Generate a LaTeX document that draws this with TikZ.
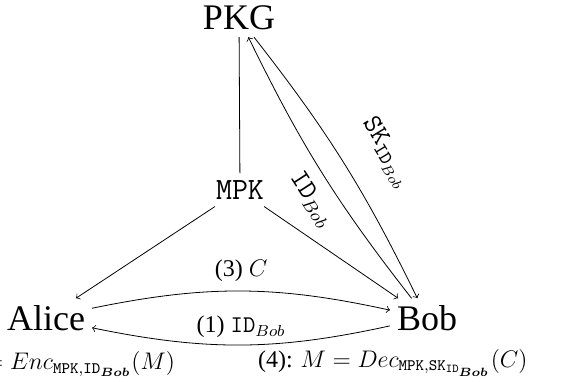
\documentclass[tikz,border=0pt]{standalone}
\usepackage{amsmath}
\usepackage{fontspec}
\setmainfont{Liberation Serif}

\begin{document}
\begin{tikzpicture}[x=0.5pt, y=-0.5pt,
		party/.style={font=\fontsize{18}{20}\selectfont},
		lbl/.style={font=\fontsize{12}{14}\selectfont},
		keylbl/.style={font=\fontsize{13.5}{15}\selectfont, sloped}]
		\useasboundingbox (0,0) rectangle (571,381);

		% the three parties and the public key
		\node [party] (pkg) at (239,18) {PKG};
		\node [font=\fontsize{15.5}{17}\selectfont] (mpk) at (240,190) {\texttt{MPK}};
		\node [party] (alice) at (46,318) {Alice};
		\node [party] (bob) at (427,318) {Bob};

		% MPK is published to both users
		\draw (pkg) -- (mpk);
		\draw [->] (mpk) -- (alice);
		\draw [->] (mpk) -- (bob);

		% key extraction between Bob and PKG
		\draw [->] (bob) to [bend left=6] node [keylbl, pos=0.44, below=3pt] {\texttt{ID}$_{Bob}$} (pkg);
		\draw [->] (pkg) to [bend left=6] node [keylbl, pos=0.55, above=11pt] {\texttt{SK}$_{\texttt{ID}_{Bob}}$} (bob);

		% messages between Alice and Bob
		\draw [->] (alice) to [bend left=12] node [lbl, above=1pt] {(3) $C$} (bob);
		\draw [->] (bob) to [bend left=12] node [lbl, above] {(1) \texttt{ID}$_{Bob}$} (alice);

		% encryption and decryption
		\node [lbl, anchor=east] (enc) at (182,364) {(2): $C = Enc_{\texttt{MPK},\texttt{ID}_{\boldsymbol{Bob}}}(M)$};
		\node [lbl, anchor=west] (dec) at (251,363) {(4): $M = Dec_{\texttt{MPK},\texttt{SK}_{\texttt{ID}_{\boldsymbol{Bob}}}}(C)$};
	\end{tikzpicture}
\end{document}
